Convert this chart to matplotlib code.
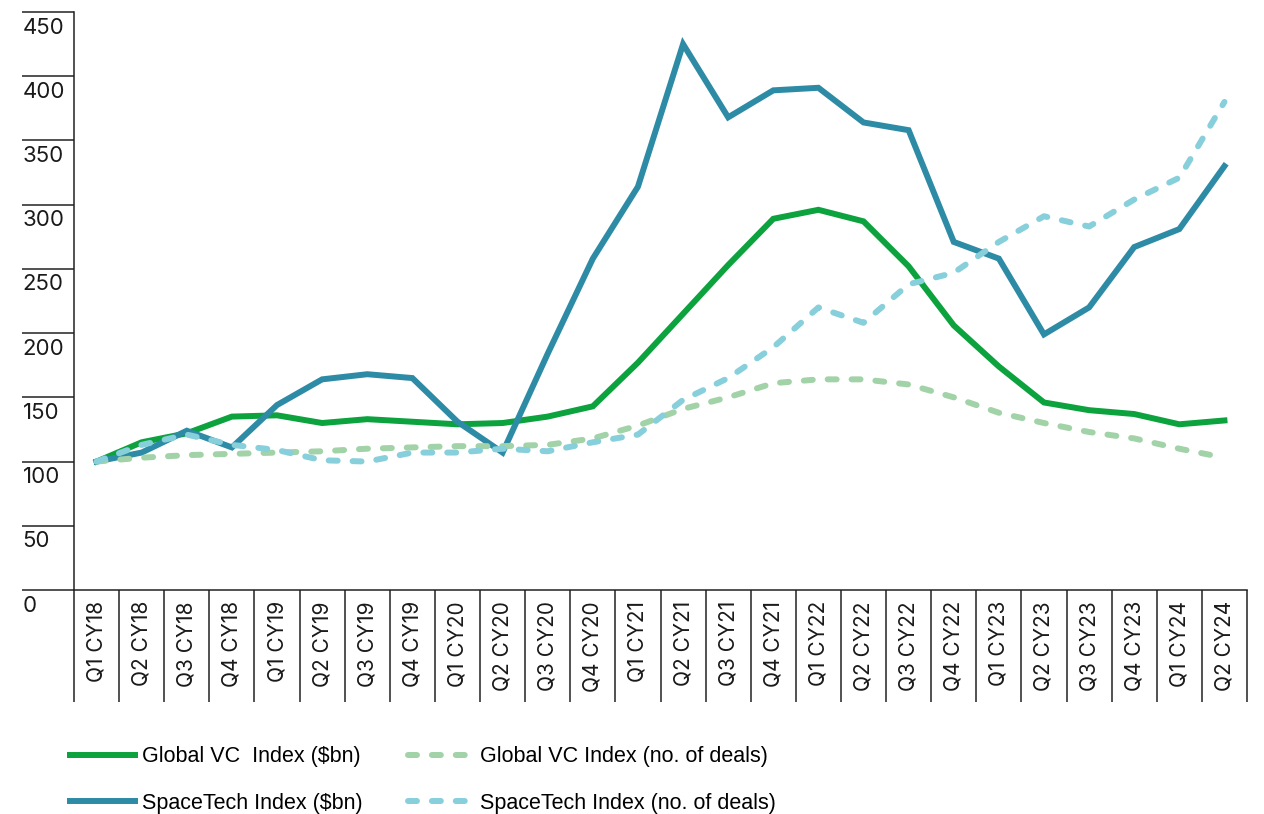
import matplotlib
matplotlib.use("Agg")
import matplotlib.pyplot as plt
from matplotlib import font_manager

# ---------------- DATA ----------------
quarters = ["Q1 CY18", "Q2 CY18", "Q3 CY18", "Q4 CY18",
            "Q1 CY19", "Q2 CY19", "Q3 CY19", "Q4 CY19",
            "Q1 CY20", "Q2 CY20", "Q3 CY20", "Q4 CY20",
            "Q1 CY21", "Q2 CY21", "Q3 CY21", "Q4 CY21",
            "Q1 CY22", "Q2 CY22", "Q3 CY22", "Q4 CY22",
            "Q1 CY23", "Q2 CY23", "Q3 CY23", "Q4 CY23",
            "Q1 CY24", "Q2 CY24"]

global_vc_bn = [100, 115, 122, 135, 136, 130, 133, 131, 129, 130, 135, 143,
                177, 215, 253, 289, 296, 287, 252, 206, 174, 146, 140, 137,
                129, 132]
spacetech_bn = [100, 107, 124, 111, 144, 164, 168, 165, 131, 107, 184, 258,
                314, 425, 368, 389, 391, 364, 358, 271, 258, 199, 220, 267,
                281, 330]
global_vc_deals = [100, 103, 105, 106, 107, 108, 110, 111, 112, 112, 113, 118,
                   128, 141, 150, 161, 164, 164, 160, 150, 138, 130, 123, 118,
                   110, 103]
spacetech_deals = [100, 113, 121, 113, 109, 101, 100, 107, 107, 110, 108, 115,
                   121, 148, 165, 189, 220, 208, 238, 247, 271, 291, 283, 304,
                   321, 380]

y_ticks = [0, 50, 100, 150, 200, 250, 300, 350, 400, 450]

labels = ["Global VC  Index ($bn)", "SpaceTech Index ($bn)",
          "Global VC Index (no. of deals)", "SpaceTech Index (no. of deals)"]

# ---------------- FONTS ----------------
names = {f.name for f in font_manager.fontManager.ttflist}
tick_font = "Inter" if "Inter" in names else "DejaVu Sans"
if "Liberation Sans Narrow" in names:
    legend_font, legend_size = "Liberation Sans Narrow", 17
else:
    legend_font, legend_size = "Liberation Sans", 15.5

# ---------------- PLOT ----------------
fig = plt.figure(figsize=(12.64, 8.14), dpi=100)
ax = fig.add_axes([74 / 1264, 1 - 590 / 814, (1247 - 74) / 1264, (590 - 12) / 814])

x = list(range(len(quarters)))
lw = 4.3
l1, = ax.plot(x, global_vc_bn, color="#0ca23d", lw=lw, solid_joinstyle="miter")
l2, = ax.plot(x, spacetech_bn, color="#2e8ba6", lw=lw, solid_joinstyle="miter")
l3, = ax.plot(x, global_vc_deals, color="#a2d2a7", lw=lw, dashes=(1.5, 2.5),
              dash_capstyle="round")
l4, = ax.plot(x, spacetech_deals, color="#86cfdb", lw=lw, dashes=(1.5, 2.5),
              dash_capstyle="round")

ax.set_xlim(-0.5, len(quarters) - 0.5)
ax.set_ylim(0, 450)

for s in ["top", "right"]:
    ax.spines[s].set_visible(False)
for s in ["left", "bottom"]:
    ax.spines[s].set_linewidth(1.1)
    ax.spines[s].set_color("#222222")

# y axis: long ticks, labels sitting under each tick line
ax.set_yticks(y_ticks, labels=[])
ax.tick_params(axis="y", length=37.4, width=1.1, color="#222222", direction="out")
for v in y_ticks:
    ax.annotate(str(v), xy=(-52 / 1173, v), xycoords=("axes fraction", "data"),
                xytext=(0.5, -4), textcoords="offset points", ha="left", va="top",
                fontsize=16, family=tick_font, color="#1a1a1a")

# x axis: rotated labels, separators between categories
ax.set_xticks(x, labels=quarters, rotation=90, fontsize=15, family=tick_font,
              color="#1a1a1a")
ax.tick_params(axis="x", which="major", length=0, pad=8)
ax.set_xticks([i - 0.5 for i in range(len(quarters) + 1)], minor=True)
ax.tick_params(axis="x", which="minor", length=80.6, width=1.1, color="#222222")

leg = fig.legend([l1, l2, l3, l4], labels, ncol=2, loc="center left",
                 bbox_to_anchor=(70 / 1264, 1 - 780 / 814), frameon=False,
                 borderpad=0, borderaxespad=0, handlelength=3.0,
                 handletextpad=0.35, columnspacing=2.1, labelspacing=1.2,
                 prop={"family": legend_font, "size": legend_size})

fig.savefig("out.png", dpi=100)
